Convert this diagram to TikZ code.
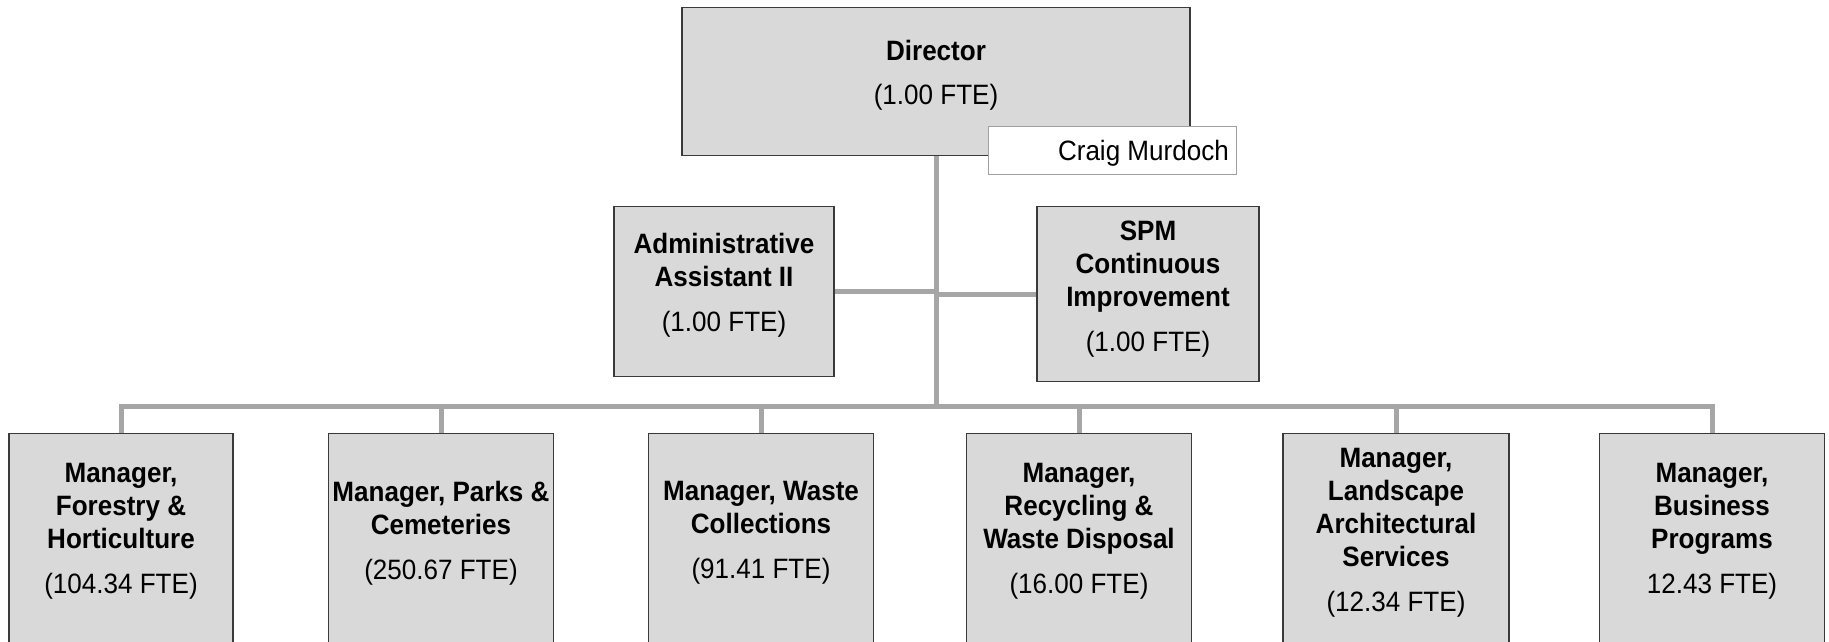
\documentclass[tikz,border=0pt]{standalone}
\usepackage{fontspec}
\setmainfont{Liberation Sans}[FakeStretch=0.93]
\definecolor{boxfill}{HTML}{D9D9D9}
\definecolor{boxline}{HTML}{3A3A3A}
\definecolor{conn}{HTML}{A6A6A6}
\definecolor{namebox}{HTML}{A0A0A0}
\tikzset{
  posbox/.style={draw=boxline, line width=1.2pt, fill=boxfill, inner sep=0pt},
  lbl/.style={align=center, inner sep=0pt, font=\fontsize{28}{33}\selectfont},
  namelbl/.style={draw=namebox, line width=1pt, fill=white, inner sep=0pt},
  link/.style={draw=conn, line width=5pt}
}
\begin{document}
\begin{tikzpicture}[x=1pt, y=-1pt]
\clip (0,0) rectangle (1829,641);
\fill[white] (0,0) rectangle (1829,641);
% boxes
\node[posbox, minimum width=508, minimum height=148, anchor=north] (dir) at (936,7) {};
\node[posbox, minimum width=220, minimum height=170, anchor=north] (admin) at (724,206) {};
\node[posbox, minimum width=222, minimum height=175, anchor=north] (spm) at (1148,206) {};
\node[posbox, minimum width=224, minimum height=240, anchor=north] (m1) at (121,433) {};
\node[posbox, minimum width=225, minimum height=240, anchor=north] (m2) at (441,433) {};
\node[posbox, minimum width=225, minimum height=240, anchor=north] (m3) at (761,433) {};
\node[posbox, minimum width=225, minimum height=240, anchor=north] (m4) at (1079,433) {};
\node[posbox, minimum width=226, minimum height=240, anchor=north] (m5) at (1396,433) {};
\node[posbox, minimum width=225, minimum height=240, anchor=north] (m6) at (1712,433) {};
% name tag
\node[namelbl, minimum width=248, minimum height=48, anchor=north west] (craig) at (988,126) {};
\node[lbl, anchor=east] (craigt) at (1229,153) {Craig Murdoch};
% connectors
\coordinate (bus) at (936,406);
\draw[link] (dir.south) -- (bus);
\draw[link] (admin.east) -- (admin.east -| bus);
\draw[link] (spm.west) -- (spm.west -| bus);
\draw[link, line cap=rect] (m1.north |- bus) -- (m6.north |- bus);
\foreach \m in {m1,m2,m3,m4,m5,m6} { \draw[link] (\m.north) -- (\m.north |- bus); }
% texts
\node[lbl] (dirt) at (936,75) {\textbf{Director}\\[11pt](1.00 FTE)};
\node[lbl] (admint) at (724,285) {\textbf{Administrative}\\\textbf{Assistant II}\\[12pt](1.00 FTE)};
\node[lbl] (spmt) at (1148,289) {\textbf{SPM}\\\textbf{Continuous}\\\textbf{Improvement}\\[12pt](1.00 FTE)};
\node[lbl] (m1t) at (121,531) {\textbf{Manager,}\\\textbf{Forestry \&}\\\textbf{Horticulture}\\[12pt](104.34 FTE)};
\node[lbl] (m2t) at (441,533) {\textbf{Manager, Parks \&}\\\textbf{Cemeteries}\\[12pt](250.67 FTE)};
\node[lbl] (m3t) at (761,533) {\textbf{Manager, Waste}\\\textbf{Collections}\\[12pt](91.41 FTE)};
\node[lbl] (m4t) at (1079,531) {\textbf{Manager,}\\\textbf{Recycling \&}\\\textbf{Waste Disposal}\\[12pt](16.00 FTE)};
\node[lbl] (m5t) at (1396,533) {\textbf{Manager,}\\\textbf{Landscape}\\\textbf{Architectural}\\\textbf{Services}\\[12pt](12.34 FTE)};
\node[lbl] (m6t) at (1712,531) {\textbf{Manager,}\\\textbf{Business}\\\textbf{Programs}\\[12pt]12.43 FTE)};
\end{tikzpicture}
\end{document}
